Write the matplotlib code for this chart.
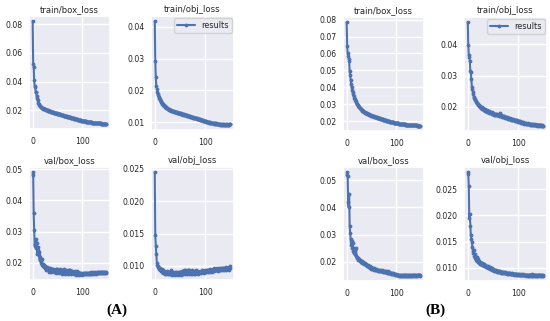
import matplotlib
matplotlib.use("Agg")
import matplotlib.pyplot as plt
from matplotlib.ticker import MultipleLocator, FormatStrFormatter
import seaborn as sns

sns.set_theme(style="darkgrid")
plt.rcParams['font.family'] = ['DejaVu Sans']

epochs = list(range(150))

# panel (A)
a_train_box = [
    0.0820, 0.0520, 0.0505, 0.0410, 0.0370, 0.0365, 0.0330, 0.0325, 0.0300, 0.0285, 0.0270, 0.0255, 0.0245, 0.0238, 0.0232,
    0.0228, 0.0225, 0.0222, 0.0220, 0.0217, 0.0215, 0.0213, 0.0212, 0.0210, 0.0209, 0.0207, 0.0206, 0.0204, 0.0203, 0.0202,
    0.0200, 0.0199, 0.0198, 0.0196, 0.0195, 0.0194, 0.0193, 0.0192, 0.0191, 0.0189, 0.0188, 0.0187, 0.0186, 0.0185, 0.0184,
    0.0183, 0.0182, 0.0181, 0.0180, 0.0179, 0.0178, 0.0177, 0.0176, 0.0175, 0.0174, 0.0173, 0.0172, 0.0171, 0.0170, 0.0169,
    0.0168, 0.0167, 0.0166, 0.0165, 0.0164, 0.0163, 0.0162, 0.0161, 0.0160, 0.0159, 0.0158, 0.0157, 0.0156, 0.0155, 0.0154,
    0.0153, 0.0152, 0.0151, 0.0150, 0.0149, 0.0148, 0.0147, 0.0146, 0.0145, 0.0144, 0.0143, 0.0142, 0.0141, 0.0140, 0.0139,
    0.0138, 0.0137, 0.0136, 0.0135, 0.0134, 0.0133, 0.0132, 0.0131, 0.0130, 0.0129, 0.0129, 0.0128, 0.0127, 0.0126, 0.0126,
    0.0125, 0.0124, 0.0124, 0.0123, 0.0122, 0.0122, 0.0121, 0.0120, 0.0120, 0.0119, 0.0119, 0.0118, 0.0118, 0.0117, 0.0117,
    0.0116, 0.0116, 0.0115, 0.0115, 0.0114, 0.0114, 0.0113, 0.0113, 0.0113, 0.0112, 0.0112, 0.0112, 0.0111, 0.0111, 0.0111,
    0.0110, 0.0110, 0.0110, 0.0110, 0.0109, 0.0109, 0.0109, 0.0109, 0.0108, 0.0108, 0.0108, 0.0108, 0.0108, 0.0107, 0.0107,
]
a_train_obj = [
    0.0418, 0.0292, 0.0243, 0.0213, 0.0205, 0.0196, 0.0190, 0.0185, 0.0180, 0.0176, 0.0172, 0.0169, 0.0166, 0.0163, 0.0161,
    0.0159, 0.0157, 0.0155, 0.0153, 0.0152, 0.0150, 0.0149, 0.0147, 0.0146, 0.0145, 0.0144, 0.0143, 0.0142, 0.0141, 0.0140,
    0.0139, 0.0138, 0.0138, 0.0137, 0.0136, 0.0135, 0.0135, 0.0134, 0.0133, 0.0133, 0.0132, 0.0132, 0.0131, 0.0130, 0.0131,
    0.0130, 0.0129, 0.0130, 0.0128, 0.0128, 0.0127, 0.0128, 0.0126, 0.0126, 0.0125, 0.0126, 0.0124, 0.0125, 0.0123, 0.0124,
    0.0123, 0.0122, 0.0123, 0.0121, 0.0122, 0.0120, 0.0121, 0.0119, 0.0120, 0.0118, 0.0119, 0.0117, 0.0118, 0.0116, 0.0117,
    0.0115, 0.0116, 0.0114, 0.0115, 0.0113, 0.0114, 0.0112, 0.0113, 0.0111, 0.0112, 0.0110, 0.0111, 0.0109, 0.0110, 0.0108,
    0.0109, 0.0107, 0.0108, 0.0106, 0.0107, 0.0105, 0.0106, 0.0104, 0.0105, 0.0103, 0.0104, 0.0102, 0.0103, 0.0101, 0.0102,
    0.0100, 0.0101, 0.0099, 0.0100, 0.0098, 0.0100, 0.0098, 0.0099, 0.0097, 0.0098, 0.0097, 0.0098, 0.0096, 0.0097, 0.0096,
    0.0097, 0.0095, 0.0096, 0.0095, 0.0096, 0.0094, 0.0095, 0.0094, 0.0095, 0.0093, 0.0094, 0.0093, 0.0094, 0.0092, 0.0094,
    0.0093, 0.0092, 0.0094, 0.0093, 0.0092, 0.0094, 0.0093, 0.0092, 0.0094, 0.0093, 0.0092, 0.0094, 0.0093, 0.0094, 0.0095,
]
a_val_box = [
    0.0482, 0.0490, 0.0360, 0.0305, 0.0255, 0.0262, 0.0248, 0.0275, 0.0265, 0.0230, 0.0250, 0.0240, 0.0225, 0.0235, 0.0210,
    0.0220, 0.0205, 0.0200, 0.0212, 0.0195, 0.0190, 0.0198, 0.0188, 0.0192, 0.0185, 0.0190, 0.0182, 0.0178, 0.0186, 0.0180,
    0.0176, 0.0183, 0.0178, 0.0172, 0.0180, 0.0185, 0.0175, 0.0179, 0.0170, 0.0182, 0.0176, 0.0173, 0.0181, 0.0177, 0.0171,
    0.0178, 0.0174, 0.0180, 0.0169, 0.0176, 0.0182, 0.0172, 0.0178, 0.0168, 0.0175, 0.0181, 0.0170, 0.0177, 0.0173, 0.0166,
    0.0179, 0.0172, 0.0168, 0.0176, 0.0181, 0.0170, 0.0165, 0.0174, 0.0178, 0.0169, 0.0175, 0.0164, 0.0172, 0.0179, 0.0167,
    0.0171, 0.0176, 0.0166, 0.0173, 0.0169, 0.0175, 0.0168, 0.0172, 0.0165, 0.0170, 0.0174, 0.0167, 0.0171, 0.0163, 0.0169,
    0.0173, 0.0166, 0.0170, 0.0162, 0.0168, 0.0165, 0.0169, 0.0164, 0.0167, 0.0163, 0.0166, 0.0168, 0.0164, 0.0167, 0.0165,
    0.0168, 0.0164, 0.0166, 0.0169, 0.0165, 0.0167, 0.0164, 0.0168, 0.0166, 0.0169, 0.0165, 0.0167, 0.0170, 0.0166, 0.0168,
    0.0165, 0.0169, 0.0167, 0.0170, 0.0166, 0.0168, 0.0171, 0.0167, 0.0169, 0.0166, 0.0170, 0.0168, 0.0172, 0.0167, 0.0169,
    0.0171, 0.0168, 0.0170, 0.0167, 0.0172, 0.0169, 0.0171, 0.0168, 0.0170, 0.0172, 0.0169, 0.0171, 0.0168, 0.0170, 0.0167,
]
a_val_obj = [
    0.0245, 0.0147, 0.0131, 0.0118, 0.0105, 0.0102, 0.0098, 0.0100, 0.0096, 0.0095, 0.0097, 0.0093, 0.0094, 0.0092, 0.0095,
    0.0091, 0.0093, 0.0089, 0.0092, 0.0090, 0.0088, 0.0091, 0.0087, 0.0090, 0.0089, 0.0092, 0.0087, 0.0089, 0.0091, 0.0088,
    0.0090, 0.0087, 0.0093, 0.0088, 0.0089, 0.0086, 0.0091, 0.0088, 0.0087, 0.0090, 0.0086, 0.0089, 0.0088, 0.0091, 0.0087,
    0.0089, 0.0086, 0.0090, 0.0088, 0.0087, 0.0091, 0.0086, 0.0089, 0.0088, 0.0092, 0.0087, 0.0090, 0.0089, 0.0093, 0.0088,
    0.0091, 0.0094, 0.0089, 0.0092, 0.0087, 0.0093, 0.0090, 0.0088, 0.0094, 0.0089, 0.0092, 0.0087, 0.0090, 0.0093, 0.0088,
    0.0091, 0.0089, 0.0087, 0.0092, 0.0090, 0.0088, 0.0093, 0.0089, 0.0091, 0.0090, 0.0088, 0.0092, 0.0090, 0.0089, 0.0091,
    0.0090, 0.0092, 0.0089, 0.0091, 0.0093, 0.0090, 0.0092, 0.0091, 0.0089, 0.0093, 0.0091, 0.0092, 0.0090, 0.0094, 0.0092,
    0.0093, 0.0091, 0.0094, 0.0092, 0.0090, 0.0095, 0.0092, 0.0093, 0.0091, 0.0094, 0.0093, 0.0096, 0.0092, 0.0094, 0.0093,
    0.0095, 0.0093, 0.0096, 0.0094, 0.0092, 0.0095, 0.0094, 0.0096, 0.0093, 0.0095, 0.0097, 0.0094, 0.0096, 0.0095, 0.0093,
    0.0096, 0.0094, 0.0097, 0.0095, 0.0096, 0.0098, 0.0094, 0.0096, 0.0095, 0.0097, 0.0096, 0.0094, 0.0098, 0.0097, 0.0100,
]

# panel (B)
b_train_box = [
    0.0785, 0.0645, 0.0600, 0.0585, 0.0570, 0.0555, 0.0495, 0.0470, 0.0445, 0.0420, 0.0400, 0.0385, 0.0370, 0.0358, 0.0347,
    0.0338, 0.0330, 0.0322, 0.0316, 0.0310, 0.0304, 0.0299, 0.0294, 0.0290, 0.0286, 0.0282, 0.0279, 0.0276, 0.0273, 0.0270,
    0.0267, 0.0265, 0.0262, 0.0260, 0.0258, 0.0256, 0.0254, 0.0252, 0.0250, 0.0248, 0.0247, 0.0245, 0.0244, 0.0242, 0.0241,
    0.0239, 0.0238, 0.0237, 0.0235, 0.0234, 0.0233, 0.0232, 0.0231, 0.0230, 0.0229, 0.0228, 0.0227, 0.0226, 0.0225, 0.0224,
    0.0223, 0.0222, 0.0221, 0.0220, 0.0219, 0.0218, 0.0217, 0.0216, 0.0215, 0.0214, 0.0213, 0.0212, 0.0211, 0.0210, 0.0209,
    0.0208, 0.0207, 0.0206, 0.0205, 0.0204, 0.0203, 0.0202, 0.0201, 0.0200, 0.0199, 0.0198, 0.0198, 0.0197, 0.0196, 0.0195,
    0.0195, 0.0194, 0.0193, 0.0192, 0.0192, 0.0191, 0.0190, 0.0190, 0.0189, 0.0188, 0.0188, 0.0187, 0.0187, 0.0186, 0.0186,
    0.0185, 0.0185, 0.0184, 0.0184, 0.0183, 0.0183, 0.0182, 0.0182, 0.0181, 0.0181, 0.0181, 0.0180, 0.0180, 0.0180, 0.0179,
    0.0179, 0.0179, 0.0178, 0.0178, 0.0178, 0.0177, 0.0177, 0.0177, 0.0177, 0.0176, 0.0176, 0.0176, 0.0176, 0.0175, 0.0175,
    0.0175, 0.0175, 0.0175, 0.0174, 0.0174, 0.0174, 0.0174, 0.0174, 0.0173, 0.0173, 0.0173, 0.0173, 0.0173, 0.0173, 0.0172,
]
b_train_obj = [
    0.0470, 0.0398, 0.0365, 0.0358, 0.0345, 0.0315, 0.0312, 0.0290, 0.0265, 0.0258, 0.0248, 0.0240, 0.0232, 0.0228, 0.0222,
    0.0226, 0.0218, 0.0215, 0.0212, 0.0214, 0.0208, 0.0205, 0.0207, 0.0202, 0.0200, 0.0203, 0.0198, 0.0196, 0.0199, 0.0194,
    0.0193, 0.0196, 0.0191, 0.0190, 0.0192, 0.0188, 0.0187, 0.0189, 0.0185, 0.0186, 0.0184, 0.0187, 0.0182, 0.0183, 0.0185,
    0.0181, 0.0180, 0.0183, 0.0179, 0.0178, 0.0181, 0.0177, 0.0176, 0.0179, 0.0175, 0.0177, 0.0174, 0.0176, 0.0178, 0.0173,
    0.0175, 0.0172, 0.0176, 0.0171, 0.0180, 0.0173, 0.0170, 0.0172, 0.0169, 0.0171, 0.0168, 0.0170, 0.0167, 0.0169, 0.0166,
    0.0168, 0.0165, 0.0167, 0.0164, 0.0166, 0.0163, 0.0165, 0.0162, 0.0164, 0.0161, 0.0163, 0.0160, 0.0162, 0.0159, 0.0161,
    0.0158, 0.0160, 0.0157, 0.0159, 0.0156, 0.0158, 0.0155, 0.0157, 0.0154, 0.0156, 0.0153, 0.0155, 0.0152, 0.0154, 0.0151,
    0.0153, 0.0150, 0.0152, 0.0149, 0.0151, 0.0148, 0.0150, 0.0147, 0.0149, 0.0146, 0.0148, 0.0145, 0.0147, 0.0146, 0.0148,
    0.0145, 0.0147, 0.0144, 0.0146, 0.0143, 0.0145, 0.0144, 0.0146, 0.0143, 0.0145, 0.0142, 0.0144, 0.0143, 0.0145, 0.0142,
    0.0144, 0.0143, 0.0141, 0.0144, 0.0142, 0.0143, 0.0141, 0.0143, 0.0142, 0.0140, 0.0143, 0.0141, 0.0142, 0.0140, 0.0141,
]
b_val_box = [
    0.0520, 0.0530, 0.0515, 0.0420, 0.0400, 0.0450, 0.0330, 0.0305, 0.0285, 0.0260, 0.0275, 0.0250, 0.0270, 0.0240, 0.0232,
    0.0250, 0.0228, 0.0245, 0.0222, 0.0250, 0.0218, 0.0212, 0.0215, 0.0208, 0.0210, 0.0205, 0.0207, 0.0202, 0.0204, 0.0200,
    0.0201, 0.0198, 0.0196, 0.0199, 0.0194, 0.0195, 0.0192, 0.0194, 0.0190, 0.0188, 0.0191, 0.0186, 0.0189, 0.0184, 0.0187,
    0.0182, 0.0180, 0.0184, 0.0176, 0.0181, 0.0174, 0.0178, 0.0173, 0.0176, 0.0172, 0.0175, 0.0171, 0.0173, 0.0170, 0.0172,
    0.0169, 0.0171, 0.0168, 0.0170, 0.0167, 0.0169, 0.0166, 0.0168, 0.0165, 0.0167, 0.0166, 0.0168, 0.0164, 0.0166, 0.0163,
    0.0165, 0.0162, 0.0167, 0.0163, 0.0161, 0.0164, 0.0160, 0.0163, 0.0159, 0.0166, 0.0158, 0.0161, 0.0157, 0.0160, 0.0156,
    0.0159, 0.0155, 0.0158, 0.0154, 0.0157, 0.0153, 0.0156, 0.0152, 0.0155, 0.0151, 0.0153, 0.0150, 0.0152, 0.0150, 0.0151,
    0.0149, 0.0151, 0.0148, 0.0150, 0.0149, 0.0151, 0.0148, 0.0150, 0.0149, 0.0151, 0.0150, 0.0148, 0.0150, 0.0149, 0.0151,
    0.0149, 0.0150, 0.0148, 0.0150, 0.0149, 0.0151, 0.0149, 0.0150, 0.0148, 0.0150, 0.0149, 0.0151, 0.0150, 0.0148, 0.0150,
    0.0149, 0.0151, 0.0150, 0.0148, 0.0150, 0.0149, 0.0151, 0.0150, 0.0149, 0.0151, 0.0150, 0.0152, 0.0150, 0.0151, 0.0149,
]
b_val_obj = [
    0.0282, 0.0278, 0.0255, 0.0195, 0.0203, 0.0180, 0.0162, 0.0155, 0.0150, 0.0140, 0.0133, 0.0128, 0.0135, 0.0122, 0.0126,
    0.0118, 0.0121, 0.0115, 0.0120, 0.0113, 0.0117, 0.0112, 0.0110, 0.0114, 0.0108, 0.0111, 0.0107, 0.0109, 0.0106, 0.0110,
    0.0105, 0.0107, 0.0104, 0.0108, 0.0103, 0.0105, 0.0102, 0.0104, 0.0101, 0.0103, 0.0100, 0.0102, 0.0099, 0.0101, 0.0098,
    0.0100, 0.0098, 0.0097, 0.0099, 0.0096, 0.0098, 0.0095, 0.0097, 0.0096, 0.0094, 0.0096, 0.0095, 0.0093, 0.0095, 0.0094,
    0.0093, 0.0095, 0.0092, 0.0094, 0.0093, 0.0091, 0.0093, 0.0092, 0.0091, 0.0093, 0.0090, 0.0092, 0.0091, 0.0090, 0.0092,
    0.0090, 0.0091, 0.0089, 0.0091, 0.0090, 0.0089, 0.0091, 0.0090, 0.0088, 0.0090, 0.0089, 0.0088, 0.0090, 0.0089, 0.0088,
    0.0089, 0.0088, 0.0087, 0.0089, 0.0088, 0.0087, 0.0089, 0.0088, 0.0087, 0.0088, 0.0087, 0.0086, 0.0088, 0.0087, 0.0086,
    0.0088, 0.0087, 0.0086, 0.0087, 0.0086, 0.0088, 0.0087, 0.0086, 0.0087, 0.0086, 0.0085, 0.0087, 0.0086, 0.0085, 0.0087,
    0.0086, 0.0085, 0.0087, 0.0086, 0.0085, 0.0086, 0.0088, 0.0085, 0.0086, 0.0085, 0.0087, 0.0086, 0.0085, 0.0086, 0.0085,
    0.0087, 0.0086, 0.0085, 0.0086, 0.0085, 0.0087, 0.0086, 0.0085, 0.0086, 0.0085, 0.0086, 0.0087, 0.0085, 0.0086, 0.0085,
]

W, H = 550, 321
fig = plt.figure(figsize=(W / 100, H / 100), dpi=100)


def add_panel(left, right, top, bottom, y, title, step, legend=False, fmt=None):
    # pixel box -> figure fraction
    ax = fig.add_axes([left / W, 1 - bottom / H, (right - left) / W, (bottom - top) / H])
    ax.plot(epochs, y, marker='.', markersize=3.5, linewidth=1.5,
            color='#4C72B0', label='results')
    ax.set_title(title, fontsize=6.1, pad=3, color='.15')
    ax.tick_params(axis='x', labelsize=5.6, length=0, pad=5.5, colors='.15')
    ax.tick_params(axis='y', labelsize=5.6, length=0, pad=4.5, colors='.15')
    ax.set_xticks([0, 100])
    ax.yaxis.set_major_locator(MultipleLocator(step))
    if fmt:
        ax.yaxis.set_major_formatter(FormatStrFormatter(fmt))
    if legend:
        ax.legend(fontsize=5.9, loc='upper right', handlelength=2.2,
                  borderpad=0.35, labelspacing=0.2, handletextpad=0.8, borderaxespad=0.25)
    return ax


# (A)
add_panel(29, 110, 16, 129, a_train_box, 'train/box_loss', 0.02)
add_panel(151, 234, 16, 130, a_train_obj, 'train/obj_loss', 0.01, legend=True)
add_panel(29, 110, 167, 280, a_val_box, 'val/box_loss', 0.01)
add_panel(151, 234, 167, 280, a_val_obj, 'val/obj_loss', 0.005, fmt='%.3f')

# (B)
add_panel(343, 424, 17, 131, b_train_box, 'train/box_loss', 0.01)
add_panel(464, 547, 17, 131, b_train_obj, 'train/obj_loss', 0.01, legend=True)
add_panel(343, 424, 167, 281, b_val_box, 'val/box_loss', 0.01)
add_panel(464, 547, 167, 281, b_val_obj, 'val/obj_loss', 0.005, fmt='%.3f')

fig.text(117 / W, 1 - 310 / H, '(A)', family='Liberation Serif', weight='bold',
         fontsize=11, ha='center', va='center', color='black')
fig.text(435 / W, 1 - 310 / H, '(B)', family='Liberation Serif', weight='bold',
         fontsize=11, ha='center', va='center', color='black')

fig.savefig('out.png', dpi=100)
